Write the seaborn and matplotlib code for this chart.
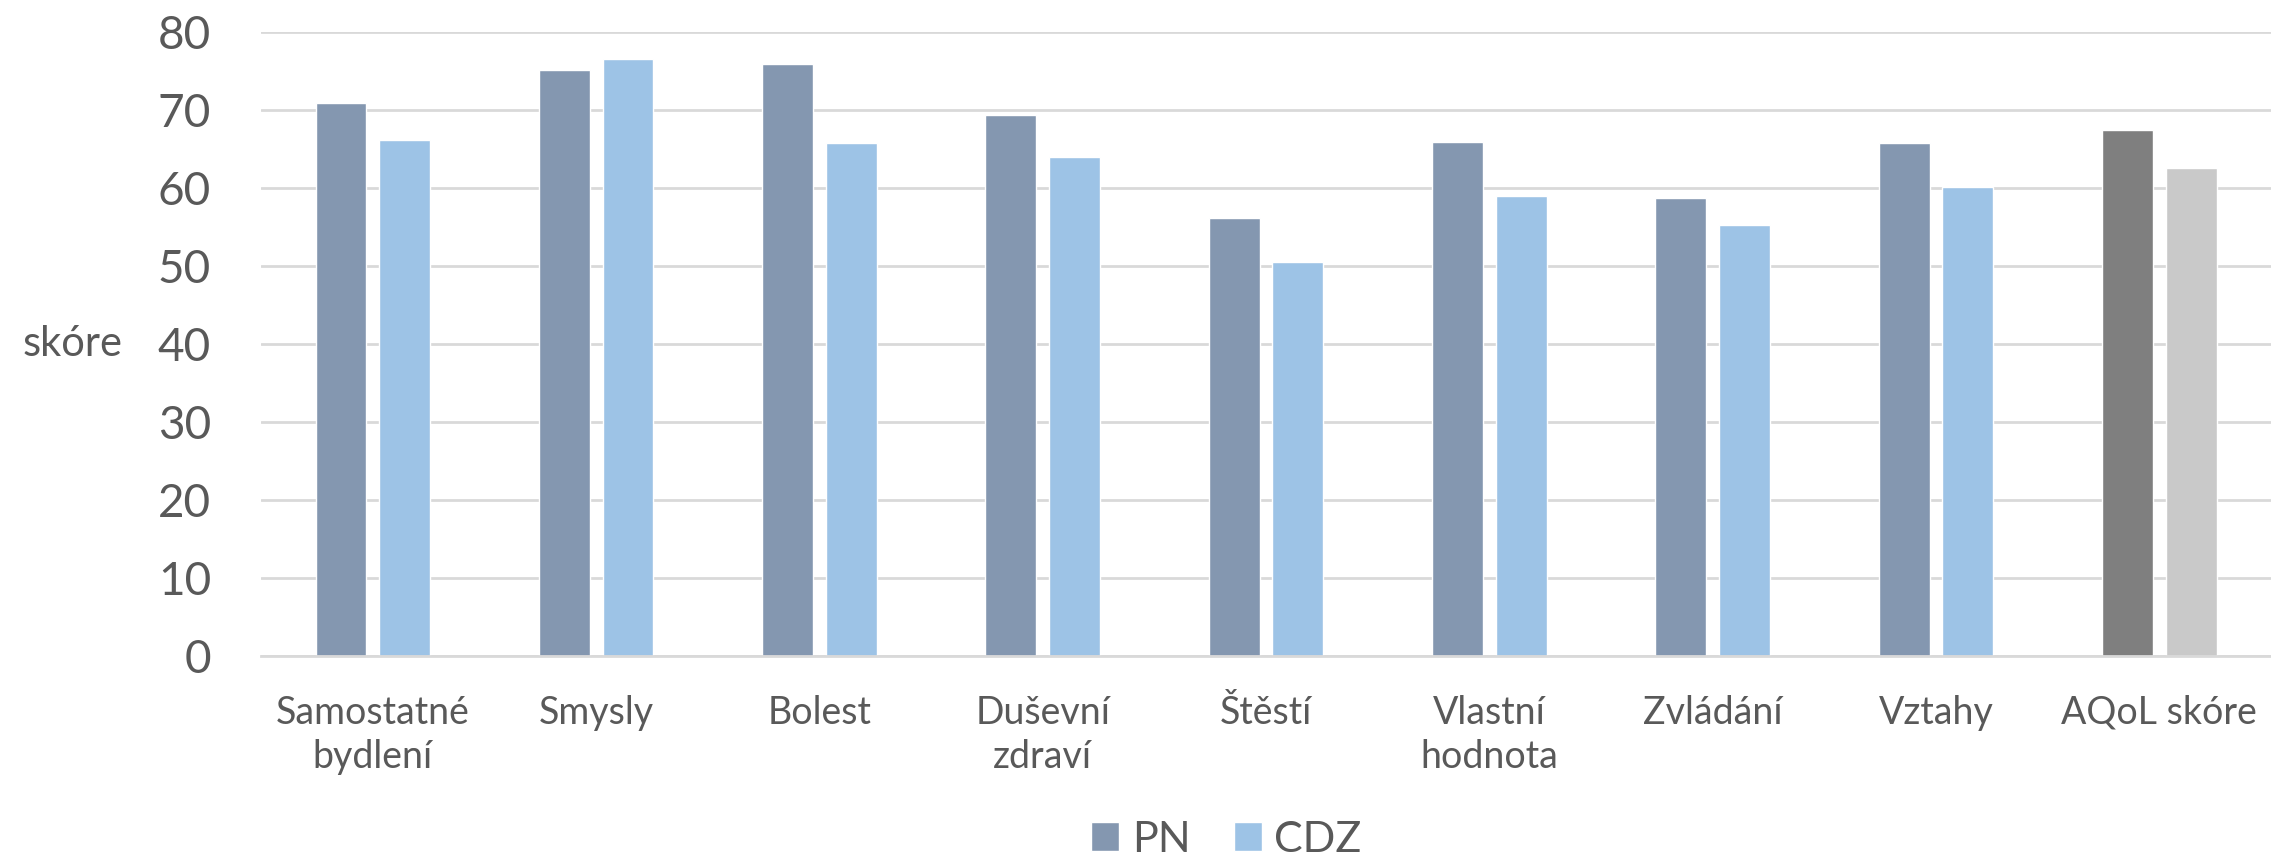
import matplotlib.pyplot as plt
import seaborn as sns
import pandas as pd

# values
categories = ['Samostatné\nbydlení', 'Smysly', 'Bolest', 'Duševní\nzdraví', 'Štěstí',
              'Vlastní\nhodnota', 'Zvládání', 'Vztahy', 'AQoL skóre']
pn = [70.9, 75.1, 75.9, 69.3, 56.2, 65.9, 58.7, 65.7, 67.4]
cdz = [66.2, 76.5, 65.8, 64.0, 50.5, 59.0, 55.2, 60.1, 62.5]
groups = ['PN', 'CDZ']
colors = ['#8497B0', '#9DC3E6']
total_colors = ['#7F7F7F', '#C9C9C9']

df = pd.DataFrame({'kategorie': categories * 2,
                   'skore': pn + cdz,
                   'skupina': ['PN'] * len(pn) + ['CDZ'] * len(cdz)})

sns.set_style('white')
plt.rcParams['font.family'] = ['Lato', 'DejaVu Sans']
txt = '#595959'

fig = plt.figure(figsize=(22.71, 8.63), dpi=100)
ax = fig.add_axes([0.115, 0.24, 0.885, 0.723])

sns.barplot(data=df, x='kategorie', y='skore', hue='skupina', hue_order=groups,
            palette=colors, saturation=1, width=0.57, gap=0.2,
            edgecolor='white', linewidth=1, ax=ax)

# last category (overall score) is drawn in greys
for cont, c in zip(ax.containers, total_colors):
    cont[-1].set_facecolor(c)

ax.set_ylim(0, 80)
ax.set_yticks(range(0, 81, 10))
ax.yaxis.grid(True, color='#D9D9D9', linewidth=2)
ax.set_axisbelow(True)
for s in ['top', 'right', 'left']:
    ax.spines[s].set_visible(False)
ax.spines['bottom'].set_color('#D9D9D9')
ax.spines['bottom'].set_linewidth(2)
ax.tick_params(axis='y', length=0, pad=36, labelsize=33, labelcolor=txt)
ax.tick_params(axis='x', length=0, pad=28, labelsize=27, labelcolor=txt)
for lab in ax.get_xticklabels():
    lab.set_linespacing(1.3)
    lab.set_verticalalignment('top')

ax.set_xlabel('')
ax.set_ylabel('skóre', rotation=0, fontsize=30, color=txt)
ax.yaxis.set_label_coords(-0.094, 0.47)

handles, labels = ax.get_legend_handles_labels()
ax.get_legend().remove()
fig.legend(handles, labels, loc='center', bbox_to_anchor=(0.54, 0.027), ncol=2,
           frameon=False, fontsize=31, labelcolor=txt, handlelength=0.65,
           handleheight=0.65, handletextpad=0.3, columnspacing=1.0)

fig.savefig('out.png', dpi=100)
